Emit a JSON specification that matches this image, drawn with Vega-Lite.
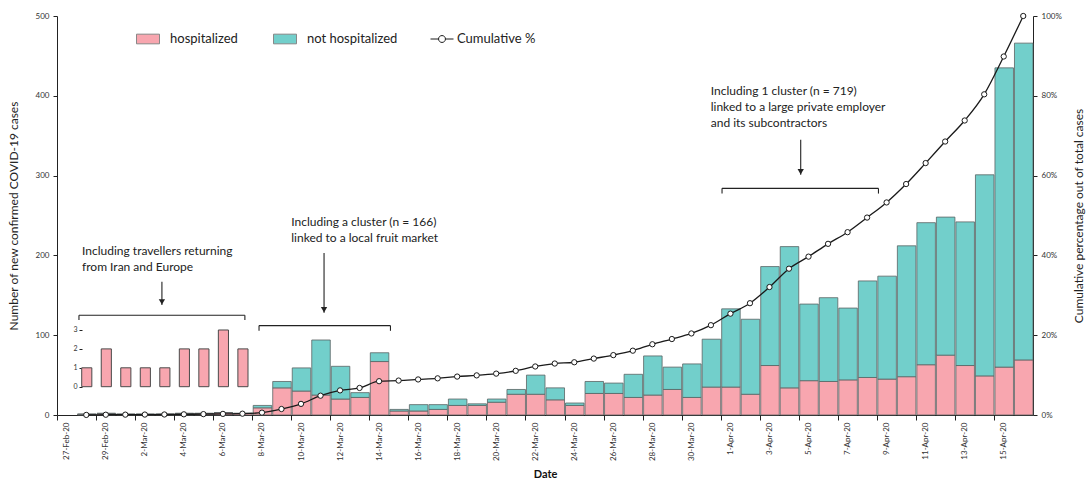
{
  "$schema": "https://vega.github.io/schema/vega-lite/v6.json",
  "width": 976,
  "height": 399,
  "autosize": {"type": "none"},
  "padding": {"left": 57, "top": 16, "right": 54, "bottom": 64},
  "background": "white",
  "config": {
    "font": "Lato",
    "view": {"stroke": null},
    "axis": {"labelFont": "Lato", "titleFont": "Lato", "domainColor": "#222", "tickColor": "#222", "labelColor": "#333", "titleColor": "#222", "grid": false, "titleFontWeight": "normal"}
  },
  "datasets": {
    "daily": [
      {"date": "2020-02-28", "hospitalized": 1, "not hospitalized": 0, "cum": 0.02},
      {"date": "2020-02-29", "hospitalized": 2, "not hospitalized": 0, "cum": 0.07},
      {"date": "2020-03-01", "hospitalized": 1, "not hospitalized": 0, "cum": 0.09},
      {"date": "2020-03-02", "hospitalized": 1, "not hospitalized": 0, "cum": 0.11},
      {"date": "2020-03-03", "hospitalized": 1, "not hospitalized": 0, "cum": 0.13},
      {"date": "2020-03-04", "hospitalized": 2, "not hospitalized": 0, "cum": 0.17},
      {"date": "2020-03-05", "hospitalized": 2, "not hospitalized": 0, "cum": 0.22},
      {"date": "2020-03-06", "hospitalized": 3, "not hospitalized": 0, "cum": 0.28},
      {"date": "2020-03-07", "hospitalized": 2, "not hospitalized": 0, "cum": 0.33},
      {"date": "2020-03-08", "hospitalized": 9, "not hospitalized": 3, "cum": 0.59},
      {"date": "2020-03-09", "hospitalized": 34, "not hospitalized": 8, "cum": 1.50},
      {"date": "2020-03-10", "hospitalized": 30, "not hospitalized": 29, "cum": 2.79},
      {"date": "2020-03-11", "hospitalized": 25, "not hospitalized": 69, "cum": 4.84},
      {"date": "2020-03-12", "hospitalized": 20, "not hospitalized": 41, "cum": 6.17},
      {"date": "2020-03-13", "hospitalized": 22, "not hospitalized": 6, "cum": 6.78},
      {"date": "2020-03-14", "hospitalized": 67, "not hospitalized": 11, "cum": 8.47},
      {"date": "2020-03-15", "hospitalized": 5, "not hospitalized": 2, "cum": 8.63},
      {"date": "2020-03-16", "hospitalized": 5, "not hospitalized": 8, "cum": 8.91},
      {"date": "2020-03-17", "hospitalized": 7, "not hospitalized": 6, "cum": 9.19},
      {"date": "2020-03-18", "hospitalized": 12, "not hospitalized": 8, "cum": 9.63},
      {"date": "2020-03-19", "hospitalized": 12, "not hospitalized": 2, "cum": 9.93},
      {"date": "2020-03-20", "hospitalized": 16, "not hospitalized": 4, "cum": 10.37},
      {"date": "2020-03-21", "hospitalized": 26, "not hospitalized": 6, "cum": 11.07},
      {"date": "2020-03-22", "hospitalized": 26, "not hospitalized": 24, "cum": 12.16},
      {"date": "2020-03-23", "hospitalized": 19, "not hospitalized": 15, "cum": 12.90},
      {"date": "2020-03-24", "hospitalized": 12, "not hospitalized": 3, "cum": 13.22},
      {"date": "2020-03-25", "hospitalized": 27, "not hospitalized": 15, "cum": 14.14},
      {"date": "2020-03-26", "hospitalized": 27, "not hospitalized": 13, "cum": 15.01},
      {"date": "2020-03-27", "hospitalized": 22, "not hospitalized": 29, "cum": 16.12},
      {"date": "2020-03-28", "hospitalized": 25, "not hospitalized": 49, "cum": 17.73},
      {"date": "2020-03-29", "hospitalized": 32, "not hospitalized": 28, "cum": 19.04},
      {"date": "2020-03-30", "hospitalized": 22, "not hospitalized": 42, "cum": 20.44},
      {"date": "2020-03-31", "hospitalized": 35, "not hospitalized": 60, "cum": 22.51},
      {"date": "2020-04-01", "hospitalized": 35, "not hospitalized": 98, "cum": 25.40},
      {"date": "2020-04-02", "hospitalized": 26, "not hospitalized": 94, "cum": 28.02},
      {"date": "2020-04-03", "hospitalized": 62, "not hospitalized": 124, "cum": 32.07},
      {"date": "2020-04-04", "hospitalized": 34, "not hospitalized": 177, "cum": 36.67},
      {"date": "2020-04-05", "hospitalized": 43, "not hospitalized": 96, "cum": 39.69},
      {"date": "2020-04-06", "hospitalized": 42, "not hospitalized": 105, "cum": 42.90},
      {"date": "2020-04-07", "hospitalized": 44, "not hospitalized": 90, "cum": 45.82},
      {"date": "2020-04-08", "hospitalized": 47, "not hospitalized": 121, "cum": 49.48},
      {"date": "2020-04-09", "hospitalized": 45, "not hospitalized": 129, "cum": 53.27},
      {"date": "2020-04-10", "hospitalized": 48, "not hospitalized": 164, "cum": 57.89},
      {"date": "2020-04-11", "hospitalized": 63, "not hospitalized": 178, "cum": 63.14},
      {"date": "2020-04-12", "hospitalized": 75, "not hospitalized": 173, "cum": 68.54},
      {"date": "2020-04-13", "hospitalized": 62, "not hospitalized": 180, "cum": 73.81},
      {"date": "2020-04-14", "hospitalized": 49, "not hospitalized": 252, "cum": 80.37},
      {"date": "2020-04-15", "hospitalized": 60, "not hospitalized": 375, "cum": 89.85},
      {"date": "2020-04-16", "hospitalized": 69, "not hospitalized": 397, "cum": 100}
    ],
    "inset": [
      {"date": "2020-02-28", "n": 1},
      {"date": "2020-02-29", "n": 2},
      {"date": "2020-03-01", "n": 1},
      {"date": "2020-03-02", "n": 1},
      {"date": "2020-03-03", "n": 1},
      {"date": "2020-03-04", "n": 2},
      {"date": "2020-03-05", "n": 2},
      {"date": "2020-03-06", "n": 3},
      {"date": "2020-03-07", "n": 2}
    ],
    "notes": [
      {"x": "2020-02-28T06:45:00Z", "y": 212, "label": ["Including travellers returning", "from Iran and Europe"]},
      {"x": "2020-03-10T00:00:00Z", "y": 248, "label": ["Including a cluster (n = 166)", "linked to a local fruit market"]},
      {"x": "2020-03-31T11:45:00Z", "y": 412, "label": ["Including 1 cluster (n = 719)", "linked to a large private employer", "and its subcontractors"]}
    ],
    "brackets": [
      {"x": "2020-02-28T03:00:00Z", "x2": "2020-03-07T15:00:00Z", "y": 125, "y2": 125},
      {"x": "2020-02-28T03:00:00Z", "x2": "2020-02-28T03:00:00Z", "y": 125, "y2": 119},
      {"x": "2020-03-07T15:00:00Z", "x2": "2020-03-07T15:00:00Z", "y": 125, "y2": 119},
      {"x": "2020-03-08T08:24:00Z", "x2": "2020-03-15T02:00:00Z", "y": 112, "y2": 112},
      {"x": "2020-03-08T08:24:00Z", "x2": "2020-03-08T08:24:00Z", "y": 112, "y2": 105.5},
      {"x": "2020-03-15T02:00:00Z", "x2": "2020-03-15T02:00:00Z", "y": 112, "y2": 105.5},
      {"x": "2020-04-01T01:40:00Z", "x2": "2020-04-09T02:00:00Z", "y": 284, "y2": 284},
      {"x": "2020-04-01T01:40:00Z", "x2": "2020-04-01T01:40:00Z", "y": 284, "y2": 277.5},
      {"x": "2020-04-09T02:00:00Z", "x2": "2020-04-09T02:00:00Z", "y": 284, "y2": 277.5}
    ],
    "arrows": [
      {"x": "2020-03-03T09:00:00Z", "y": 167, "tip": 138},
      {"x": "2020-03-11T16:20:00Z", "y": 203, "tip": 128},
      {"x": "2020-04-05T02:24:00Z", "y": 345, "tip": 301}
    ]
  },
  "layer": [
    {
      "layer": [
        {
          "data": {"name": "daily"},
          "transform": [{"fold": ["hospitalized", "not hospitalized"], "as": ["status", "n"]}],
          "mark": {"type": "bar", "stroke": "#5a6363", "strokeWidth": 0.8},
          "encoding": {
            "x": {
              "field": "date", "timeUnit": "utcyearmonthdate", "type": "temporal", "title": "Date",
              "scale": {"type": "utc", "domain": [{"year": 2020, "month": 2, "date": 27, "utc": true}, {"year": 2020, "month": 4, "date": 17, "utc": true}], "nice": false},
              "axis": {
                "values": [
                  {"year": 2020, "month": 2, "date": 27, "utc": true},
                  {"year": 2020, "month": 2, "date": 29, "utc": true},
                  {"year": 2020, "month": 3, "date": 2, "utc": true},
                  {"year": 2020, "month": 3, "date": 4, "utc": true},
                  {"year": 2020, "month": 3, "date": 6, "utc": true},
                  {"year": 2020, "month": 3, "date": 8, "utc": true},
                  {"year": 2020, "month": 3, "date": 10, "utc": true},
                  {"year": 2020, "month": 3, "date": 12, "utc": true},
                  {"year": 2020, "month": 3, "date": 14, "utc": true},
                  {"year": 2020, "month": 3, "date": 16, "utc": true},
                  {"year": 2020, "month": 3, "date": 18, "utc": true},
                  {"year": 2020, "month": 3, "date": 20, "utc": true},
                  {"year": 2020, "month": 3, "date": 22, "utc": true},
                  {"year": 2020, "month": 3, "date": 24, "utc": true},
                  {"year": 2020, "month": 3, "date": 26, "utc": true},
                  {"year": 2020, "month": 3, "date": 28, "utc": true},
                  {"year": 2020, "month": 3, "date": 30, "utc": true},
                  {"year": 2020, "month": 4, "date": 1, "utc": true},
                  {"year": 2020, "month": 4, "date": 3, "utc": true},
                  {"year": 2020, "month": 4, "date": 5, "utc": true},
                  {"year": 2020, "month": 4, "date": 7, "utc": true},
                  {"year": 2020, "month": 4, "date": 9, "utc": true},
                  {"year": 2020, "month": 4, "date": 11, "utc": true},
                  {"year": 2020, "month": 4, "date": 13, "utc": true},
                  {"year": 2020, "month": 4, "date": 15, "utc": true}
                ],
                "labelExpr": "utcFormat(datum.value, '%-d-%b-%y')",
                "labelAngle": -90, "labelOffset": 9.76, "labelFontSize": 8, "labelPadding": 2,
                "labelOverlap": false, "labelFlush": false, "tickSize": 5,
                "titleFontWeight": "bold", "titleFontSize": 11, "titlePadding": 8, "titleColor": "#111"
              }
            },
            "y": {
              "field": "n", "type": "quantitative", "stack": "zero",
              "title": "Number of new confirmed COVID-19 cases",
              "scale": {"domain": [0, 500], "nice": false},
              "axis": {"orient": "left", "values": [0, 50, 100, 150, 200, 250, 300, 350, 400, 450, 500], "labelFontSize": 8, "tickSize": 4, "labelPadding": 4, "titleFontSize": 12, "titlePadding": 15, "titleColor": "#222"}
            },
            "color": {
              "field": "status", "type": "nominal",
              "scale": {"domain": ["hospitalized", "not hospitalized"], "range": ["#F8A6AF", "#72CFCB"]},
              "legend": {"orient": "none", "legendX": 79, "legendY": 11, "direction": "horizontal", "title": null,
                "symbolType": "M-1,-0.42H1V0.42H-1Z", "symbolSize": 529, "symbolStrokeColor": "#888", "symbolStrokeWidth": 1,
                "labelFontSize": 13, "labelFont": "Lato", "labelColor": "#222", "labelOffset": 10, "columnPadding": 33}
            },
            "order": {"field": "status", "sort": "ascending"}
          }
        },
        {
          "data": {"name": "brackets"},
          "mark": {"type": "rule", "stroke": "#222", "strokeWidth": 1.1},
          "encoding": {
            "x": {"field": "x", "type": "temporal", "title": "Date"},
            "x2": {"field": "x2"},
            "y": {"field": "y", "type": "quantitative", "title": "Number of new confirmed COVID-19 cases"},
            "y2": {"field": "y2"}
          }
        },
        {
          "data": {"name": "arrows"},
          "mark": {"type": "rule", "stroke": "#222", "strokeWidth": 1.1},
          "encoding": {
            "x": {"field": "x", "type": "temporal", "title": "Date"},
            "y": {"field": "y", "type": "quantitative", "title": "Number of new confirmed COVID-19 cases"},
            "y2": {"field": "tip"}
          }
        },
        {
          "data": {"name": "arrows"},
          "mark": {"type": "point", "shape": "triangle-down", "filled": true, "fill": "#222", "size": 40, "opacity": 1, "yOffset": -3},
          "encoding": {
            "x": {"field": "x", "type": "temporal", "title": "Date"},
            "y": {"field": "tip", "type": "quantitative", "title": "Number of new confirmed COVID-19 cases"}
          }
        },
        {
          "data": {"name": "notes"},
          "mark": {"type": "text", "align": "left", "baseline": "top", "fontSize": 12, "font": "Lato", "lineHeight": 16, "color": "#222"},
          "encoding": {
            "x": {"field": "x", "type": "temporal", "title": "Date"},
            "y": {"field": "y", "type": "quantitative", "title": "Number of new confirmed COVID-19 cases"},
            "text": {"field": "label"}
          }
        }
      ]
    },
    {
      "data": {"name": "daily"},
      "layer": [
        {
          "mark": {"type": "line", "interpolate": "monotone", "strokeWidth": 1.3},
          "encoding": {
            "x": {"field": "date", "timeUnit": "utcyearmonthdate", "type": "temporal", "bandPosition": 0.5, "title": "Date"},
            "y": {"field": "cum", "type": "quantitative", "title": "Cumulative percentage out of total cases",
              "scale": {"domain": [0, 100], "nice": false},
              "axis": {"orient": "right", "values": [0, 10, 20, 30, 40, 50, 60, 70, 80, 90, 100], "labelExpr": "datum.value + '%'", "labelFontSize": 8, "tickSize": 4, "labelPadding": 4, "titleFontSize": 12, "titleAngle": -90, "titleBaseline": "top", "titlePadding": 12, "titleColor": "#222"}},
            "stroke": {"datum": "Cumulative %", "type": "nominal", "scale": {"range": ["#1a1a1a"]},
              "legend": {"orient": "none", "legendX": 373, "legendY": 11, "title": null,
                "symbolType": "M-1,0H-0.3M0.3,0H1M0.3,0A0.3,0.3,0,1,1,-0.3,0A0.3,0.3,0,1,1,0.3,0", "symbolSize": 529,
                "symbolStrokeWidth": 1, "symbolFillColor": "white", "labelFontSize": 13, "labelFont": "Lato", "labelColor": "#222", "labelOffset": 3}}
          }
        },
        {
          "mark": {"type": "point", "shape": "circle", "filled": true, "fill": "white", "stroke": "#1a1a1a", "strokeWidth": 1, "size": 28, "opacity": 1},
          "encoding": {
            "x": {"field": "date", "timeUnit": "utcyearmonthdate", "type": "temporal", "bandPosition": 0.5, "title": "Date"},
            "y": {"field": "cum", "type": "quantitative", "title": "Cumulative percentage out of total cases"}
          }
        }
      ]
    },
    {
      "layer": [
        {
          "data": {"name": "inset"},
          "mark": {"type": "bar", "fill": "#F8A6AF", "stroke": "#4a4a4a", "strokeWidth": 1, "width": {"band": 0.57}},
          "encoding": {
            "x": {"field": "date", "timeUnit": "utcyearmonthdate", "type": "temporal", "title": "Date"},
            "y": {"field": "n", "type": "quantitative",
              "scale": {"domain": [-1.497, 19.61], "nice": false, "zero": false},
              "axis": {"orient": "left", "offset": -25, "values": [0, 1, 2, 3], "domain": false, "tickSize": 3, "labelFontSize": 7, "labelPadding": 2, "title": null}},
            "y2": {"datum": 0}
          }
        },
        {
          "mark": {"type": "rule", "stroke": "#333", "strokeWidth": 1},
          "encoding": {
            "x": {"datum": {"year": 2020, "month": 2, "date": 28, "hours": 6, "minutes": 45, "utc": true}, "type": "temporal"},
            "y": {"datum": 0, "type": "quantitative"},
            "y2": {"datum": 3}
          }
        },
        {
          "mark": {"type": "rule", "stroke": "#333", "strokeWidth": 1},
          "encoding": {
            "x": {"datum": {"year": 2020, "month": 2, "date": 28, "hours": 6, "minutes": 45, "utc": true}, "type": "temporal"},
            "x2": {"datum": {"year": 2020, "month": 3, "date": 7, "hours": 17, "minutes": 30, "utc": true}},
            "y": {"datum": 0, "type": "quantitative"}
          }
        }
      ]
    }
  ],
  "resolve": {"scale": {"y": "independent"}}
}
